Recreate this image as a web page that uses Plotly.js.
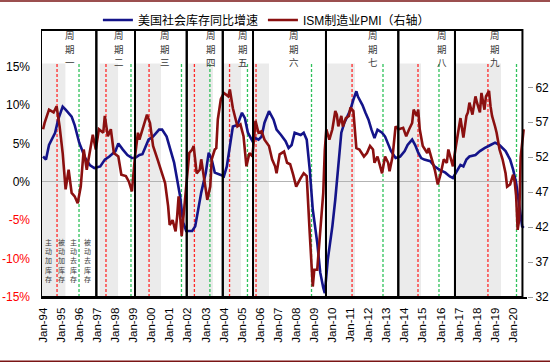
<!DOCTYPE html>
<html><head><meta charset="utf-8">
<script src="https://cdn.plot.ly/plotly-3.0.1.min.js"></script>
<style>body{margin:0;background:#fff}#chart{width:550px;height:363px}</style>
</head><body><div id="chart"></div>
<script>
// 美国社会库存同比增速 (%)
const invDates = ['1994-01','1994-03','1994-05','1994-09','1994-11','1995-02','1995-04','1995-08','1995-10','1996-01','1996-05','1996-08','1996-11','1997-03','1997-06','1997-09','1998-01','1998-03','1998-06','1998-09','1998-12','1999-02','1999-05','1999-07','1999-11','2000-02','2000-06','2000-08','2000-11','2001-01','2001-04','2001-06','2001-08','2001-10','2001-12','2002-04','2002-06','2002-08','2002-10','2003-01','2003-03','2003-05','2003-07','2003-11','2004-01','2004-03','2004-05','2004-07','2004-10','2005-01','2005-03','2005-05','2005-08','2005-10','2005-12','2006-02','2006-04','2006-07','2006-10','2006-12','2007-03','2007-06','2007-08','2007-10','2007-12','2008-04','2008-06','2008-08','2008-10','2008-12','2009-03','2009-05','2009-07','2009-08','2009-10','2010-01','2010-03','2010-05','2010-07','2010-09','2011-01','2011-03','2011-05','2011-06','2011-09','2011-11','2012-01','2012-03','2012-05','2012-07','2012-10','2012-12','2013-02','2013-04','2013-07','2013-10','2014-01','2014-03','2014-06','2014-08','2014-10','2014-12','2015-02','2015-06','2015-09','2015-12','2016-04','2016-07','2016-09','2016-12','2017-02','2017-04','2017-06','2017-08','2017-12','2018-03','2018-06','2018-10','2019-01','2019-04','2019-08','2019-11','2020-01','2020-03','2020-05','2020-07','2020-08'];
const invYoY = [3.3,2.9,4.8,6.4,8.1,9.8,9.4,8.5,7.4,5.1,3.1,2.2,1.8,2.0,2.9,3.3,4.0,5.0,4.2,3.5,3.1,3.1,3.5,3.6,5.5,5.9,6.8,6.8,5.9,4.6,2.5,0.3,-1.9,-5.3,-6.4,-6.4,-5.8,-3.6,-1.4,1.2,3.8,2.9,1.2,0.9,0.7,2.0,4.8,7.2,7.4,9.0,8.3,6.4,5.3,5.7,5.5,5.9,7.7,9.2,8.1,6.8,6.1,5.3,4.4,4.8,6.4,6.1,6.4,5.5,1.6,-3.6,-7.9,-11.8,-13.8,-14.5,-10.1,-5.8,-2.3,1.6,6.4,7.7,9.4,10.7,11.8,11.1,10.0,9.0,8.1,6.8,5.7,6.8,6.4,5.9,4.8,4.0,3.1,3.3,4.0,4.8,5.5,4.8,3.8,3.1,2.9,2.7,2.0,1.6,1.2,0.7,0.5,1.6,2.2,2.0,2.9,3.3,3.5,4.0,4.4,4.8,5.1,4.8,4.0,2.9,1.6,-0.1,-3.2,-5.8,-6.0];

// ISM制造业PMI
const pmiDates = ['1994-01','1994-02','1994-05','1994-08','1994-10','1994-12','1995-02','1995-04','1995-06','1995-08','1995-10','1995-12','1996-02','1996-04','1996-06','1996-08','1996-10','1996-12','1997-02','1997-05','1997-06','1997-08','1997-10','1997-12','1998-03','1998-05','1998-08','1998-10','1998-12','1999-02','1999-04','1999-05','1999-08','1999-10','1999-12','2000-02','2000-05','2000-08','2000-10','2000-12','2001-01','2001-03','2001-05','2001-06','2001-07','2001-09','2001-11','2001-12','2002-02','2002-04','2002-05','2002-07','2002-09','2002-10','2002-12','2003-01','2003-02','2003-04','2003-05','2003-07','2003-08','2003-09','2003-11','2004-01','2004-04','2004-05','2004-07','2004-10','2004-12','2005-02','2005-04','2005-06','2005-08','2005-10','2005-12','2006-02','2006-04','2006-07','2006-09','2006-11','2006-12','2007-02','2007-05','2007-07','2007-09','2007-11','2008-01','2008-04','2008-06','2008-08','2008-09','2008-10','2008-12','2009-01','2009-03','2009-05','2009-07','2009-08','2009-09','2009-11','2010-01','2010-03','2010-04','2010-05','2010-07','2010-08','2010-10','2010-12','2011-01','2011-03','2011-04','2011-05','2011-07','2011-10','2011-12','2012-02','2012-04','2012-05','2012-07','2012-09','2012-10','2012-12','2013-02','2013-03','2013-05','2013-07','2013-09','2013-12','2014-02','2014-04','2014-06','2014-07','2014-09','2014-10','2014-11','2015-01','2015-04','2015-05','2015-07','2015-09','2015-11','2016-01','2016-03','2016-05','2016-06','2016-08','2016-09','2016-11','2017-01','2017-02','2017-04','2017-06','2017-07','2017-08','2017-10','2017-12','2018-01','2018-03','2018-04','2018-06','2018-07','2018-09','2018-10','2018-11','2019-01','2019-02','2019-04','2019-06','2019-08','2019-09','2019-11','2020-01','2020-02','2020-03','2020-04','2020-05','2020-06','2020-07','2020-08'];
const pmiValues = [56.0,56.9,58.8,58.4,59.3,56.4,52.6,47.4,50.2,46.9,46.4,45.4,47.8,53.1,50.2,52.6,55.2,53.1,56.0,55.5,57.9,55.0,56.0,52.6,52.1,49.5,49.3,48.5,47.1,52.1,55.5,54.5,56.7,58.1,56.9,53.6,51.7,49.5,48.3,45.0,42.3,43.0,41.4,43.5,46.4,40.7,45.0,47.8,52.6,53.1,53.6,49.7,50.2,51.7,48.8,46.9,45.9,47.8,51.7,53.1,53.3,57.4,60.3,61.2,60.7,61.7,59.0,56.4,56.7,55.0,50.7,52.6,52.1,57.2,55.5,55.7,54.5,53.6,51.7,50.7,49.7,52.4,52.8,51.2,51.0,49.5,47.8,49.0,49.7,49.3,45.9,41.1,33.5,35.9,35.9,41.1,46.9,53.0,56.0,54.5,56.0,58.6,58.1,56.4,57.9,56.4,57.6,57.9,59.1,58.6,55.5,53.3,53.1,52.1,52.6,53.6,53.1,51.2,52.1,50.7,49.7,52.1,51.2,50.0,52.1,56.4,56.0,56.2,55.0,56.0,56.9,58.8,57.9,58.8,56.0,53.6,52.6,53.3,51.7,50.2,48.1,49.7,51.7,51.2,53.1,51.2,50.7,53.6,56.4,57.6,54.8,57.9,58.4,59.8,58.1,60.7,59.8,58.4,61.2,58.8,60.7,61.5,59.3,57.9,56.4,55.5,53.1,51.7,49.7,47.8,48.1,49.5,48.5,46.5,41.6,43.0,52.0,54.0,56.0];

// 库存周期划分
const cycleBounds = ['1993-11-20','1996-12-12','1999-02-01','2001-12-12','2003-12-10','2005-08-12','2009-08-25','2013-08-25','2016-10-13','2020-07-07'];
const cycleNames = ['一','二','三','四','五','六','七','八','九'];
const cycleLabelDates = ['1995-06-28','1998-03-13','2000-10-01','2003-04-15','2005-01-22','2007-11-25','2012-04-01','2016-01-19','2019-01-01'];
const peakDates = ['1994-10-10','1997-06-25','1999-11-12','2002-05-16','2004-04-25','2005-10-12','2011-02-03','2014-09-27','2018-08-10'];
const troughDates = ['1995-12-28','1998-11-12','2001-08-28','2003-03-25','2005-04-22','2008-11-06','2012-10-20','2015-11-25','2020-03-09'];
const shadeStarts = ['1993-11-20','1997-02-15','1999-02-03','2002-01-13','2003-12-21','2005-09-01','2009-09-22','2013-09-15','2016-10-24'];
const shadeEnds = ['1995-03-28','1998-02-24','2000-07-10','2003-05-25','2004-12-13','2006-07-01','2011-04-03','2014-11-27','2019-05-01'];
const phaseLabels = ['主动加库存','被动加库存','主动去库存','被动去库存'];
const phaseLabelDates = ['1994-04-15','1995-01-12','1995-09-03','1996-06-12'];

const xTickVals = ['1994-01-01','1995-01-01','1996-01-01','1997-01-01','1998-01-01','1999-01-01','2000-01-01','2001-01-01','2002-01-01','2003-01-01','2004-01-01','2005-01-01','2006-01-01','2007-01-01','2008-01-01','2009-01-01','2010-01-01','2011-01-01','2012-01-01','2013-01-01','2014-01-01','2015-01-01','2016-01-01','2017-01-01','2018-01-01','2019-01-01','2020-01-01'];
const xTickText = ['Jan-94','Jan-95','Jan-96','Jan-97','Jan-98','Jan-99','Jan-00','Jan-01','Jan-02','Jan-03','Jan-04','Jan-05','Jan-06','Jan-07','Jan-08','Jan-09','Jan-10','Jan-11','Jan-12','Jan-13','Jan-14','Jan-15','Jan-16','Jan-17','Jan-18','Jan-19','Jan-20'];
const yTickVals = [-15,-10,-5,0,5,10,15];
const yTickText = ['-15%','-10%','-5%','0%','5%','10%','15%'];
const y2TickVals = [32,37,42,47,52,57,62];

const FONT = 'Liberation Sans, Arial, Noto Sans CJK SC, sans-serif';
const CJK = 'Noto Sans CJK SC, sans-serif';

const traces = [
  {x: invDates, y: invYoY, type: 'scatter', mode: 'lines', name: '美国社会库存同比增速',
   line: {color: '#14148a', width: 2.6}, yaxis: 'y'},
  {x: pmiDates, y: pmiValues, type: 'scatter', mode: 'lines', name: 'ISM制造业PMI（右轴）',
   line: {color: '#8b1010', width: 2.6}, yaxis: 'y2'}
];

const shapes = [];
shadeStarts.forEach((s, i) => shapes.push({type: 'rect', xref: 'x', yref: 'y', x0: s, x1: shadeEnds[i], y0: -15, y1: 15.4,
  fillcolor: '#ebebeb', line: {width: 0}, layer: 'below'}));
peakDates.forEach(d => shapes.push({type: 'line', xref: 'x', yref: 'y', x0: d, x1: d, y0: -15, y1: 15.4,
  line: {color: '#ff2a2a', width: 1.3, dash: '3px,2px'}, layer: 'below'}));
troughDates.forEach(d => shapes.push({type: 'line', xref: 'x', yref: 'y', x0: d, x1: d, y0: -15, y1: 15.4,
  line: {color: '#2fc25b', width: 1.3, dash: '3px,2px'}, layer: 'below'}));
for (let i = 0; i < cycleBounds.length - 1; i++) {
  shapes.push({type: 'rect', xref: 'x', yref: 'paper', x0: cycleBounds[i], x1: cycleBounds[i + 1], y0: 0, y1: 1,
    line: {color: '#000', width: 2}, fillcolor: 'rgba(0,0,0,0)', layer: 'above'});
}
// page rules (top / bottom)
shapes.push({type: 'line', xref: 'paper', yref: 'paper', x0: -0.09, x1: 1.06, y0: 1.109, y1: 1.109, line: {color: '#7a1515', width: 1.5}});
shapes.push({type: 'line', xref: 'paper', yref: 'paper', x0: -0.09, x1: 1.06, y0: -0.241, y1: -0.241, line: {color: '#7a1515', width: 1.5}});

const annotations = [];
const cycleRowY = [0.9813, 0.9307, 0.8801];
cycleNames.forEach((n, i) => ['周', '期', n].forEach((ch, k) => annotations.push({
  xref: 'x', yref: 'paper', x: cycleLabelDates[i], y: cycleRowY[k],
  text: ch, showarrow: false, xanchor: 'center', yanchor: 'middle', borderpad: 0,
  font: {family: CJK, size: 9.5, color: '#3a3a3a'}})));
const phaseRowY = [0.206, 0.171, 0.137, 0.102, 0.067];
phaseLabels.forEach((t, i) => t.split('').forEach((ch, k) => annotations.push({
  xref: 'x', yref: 'paper', x: phaseLabelDates[i], y: phaseRowY[k],
  text: ch, showarrow: false, xanchor: 'center', yanchor: 'middle', borderpad: 0,
  font: {family: CJK, size: 7, color: '#3a3a3a'}})));

const layout = {
  width: 550, height: 363,
  margin: {l: 41, r: 23, t: 30, b: 66, pad: 0, autoexpand: false},
  paper_bgcolor: '#fff', plot_bgcolor: '#fff',
  font: {family: FONT, size: 12, color: '#000'},
  showlegend: true,
  legend: {orientation: 'h', xref: 'container', yref: 'container', x: 0.178, xanchor: 'left', y: 0.945, yanchor: 'middle',
    font: {family: FONT, size: 12, color: '#000'}, bgcolor: 'rgba(0,0,0,0)', itemwidth: 30, tracegroupgap: 0},
  xaxis: {type: 'date', range: ['1993-11-20', '2020-10-07'], tickmode: 'array', tickvals: xTickVals, ticktext: xTickText,
    tickangle: -90, showgrid: false, zeroline: false, showline: true, linecolor: '#000', linewidth: 2,
    ticks: '', ticklabelstandoff: 4, tickfont: {family: FONT, size: 11.5, color: '#000'}, automargin: false, fixedrange: true},
  yaxis: {range: [-15, 19.78], tickmode: 'array', tickvals: yTickVals,
    ticktext: yTickText.map((t, i) => yTickVals[i] < 0 ? '<span style="color:#ff0000">' + t + '</span>' : t),
    showgrid: false, zeroline: true, zerolinecolor: '#b3b3b3', zerolinewidth: 1, showline: false, ticks: '',
    ticklabelstandoff: 10, tickfont: {family: FONT, size: 12, color: '#000'}, automargin: false, fixedrange: true},
  yaxis2: {range: [32, 70.2], overlaying: 'y', side: 'right', tickmode: 'array', tickvals: y2TickVals,
    showgrid: false, zeroline: false, showline: false, ticks: 'outside', ticklen: 5, tickcolor: '#999', tickwidth: 1,
    tickfont: {family: FONT, size: 12, color: '#000'}, automargin: false, fixedrange: true},
  shapes: shapes,
  annotations: annotations
};

Plotly.newPlot('chart', traces, layout, {displayModeBar: false, staticPlot: true});
</script>
</body></html>
